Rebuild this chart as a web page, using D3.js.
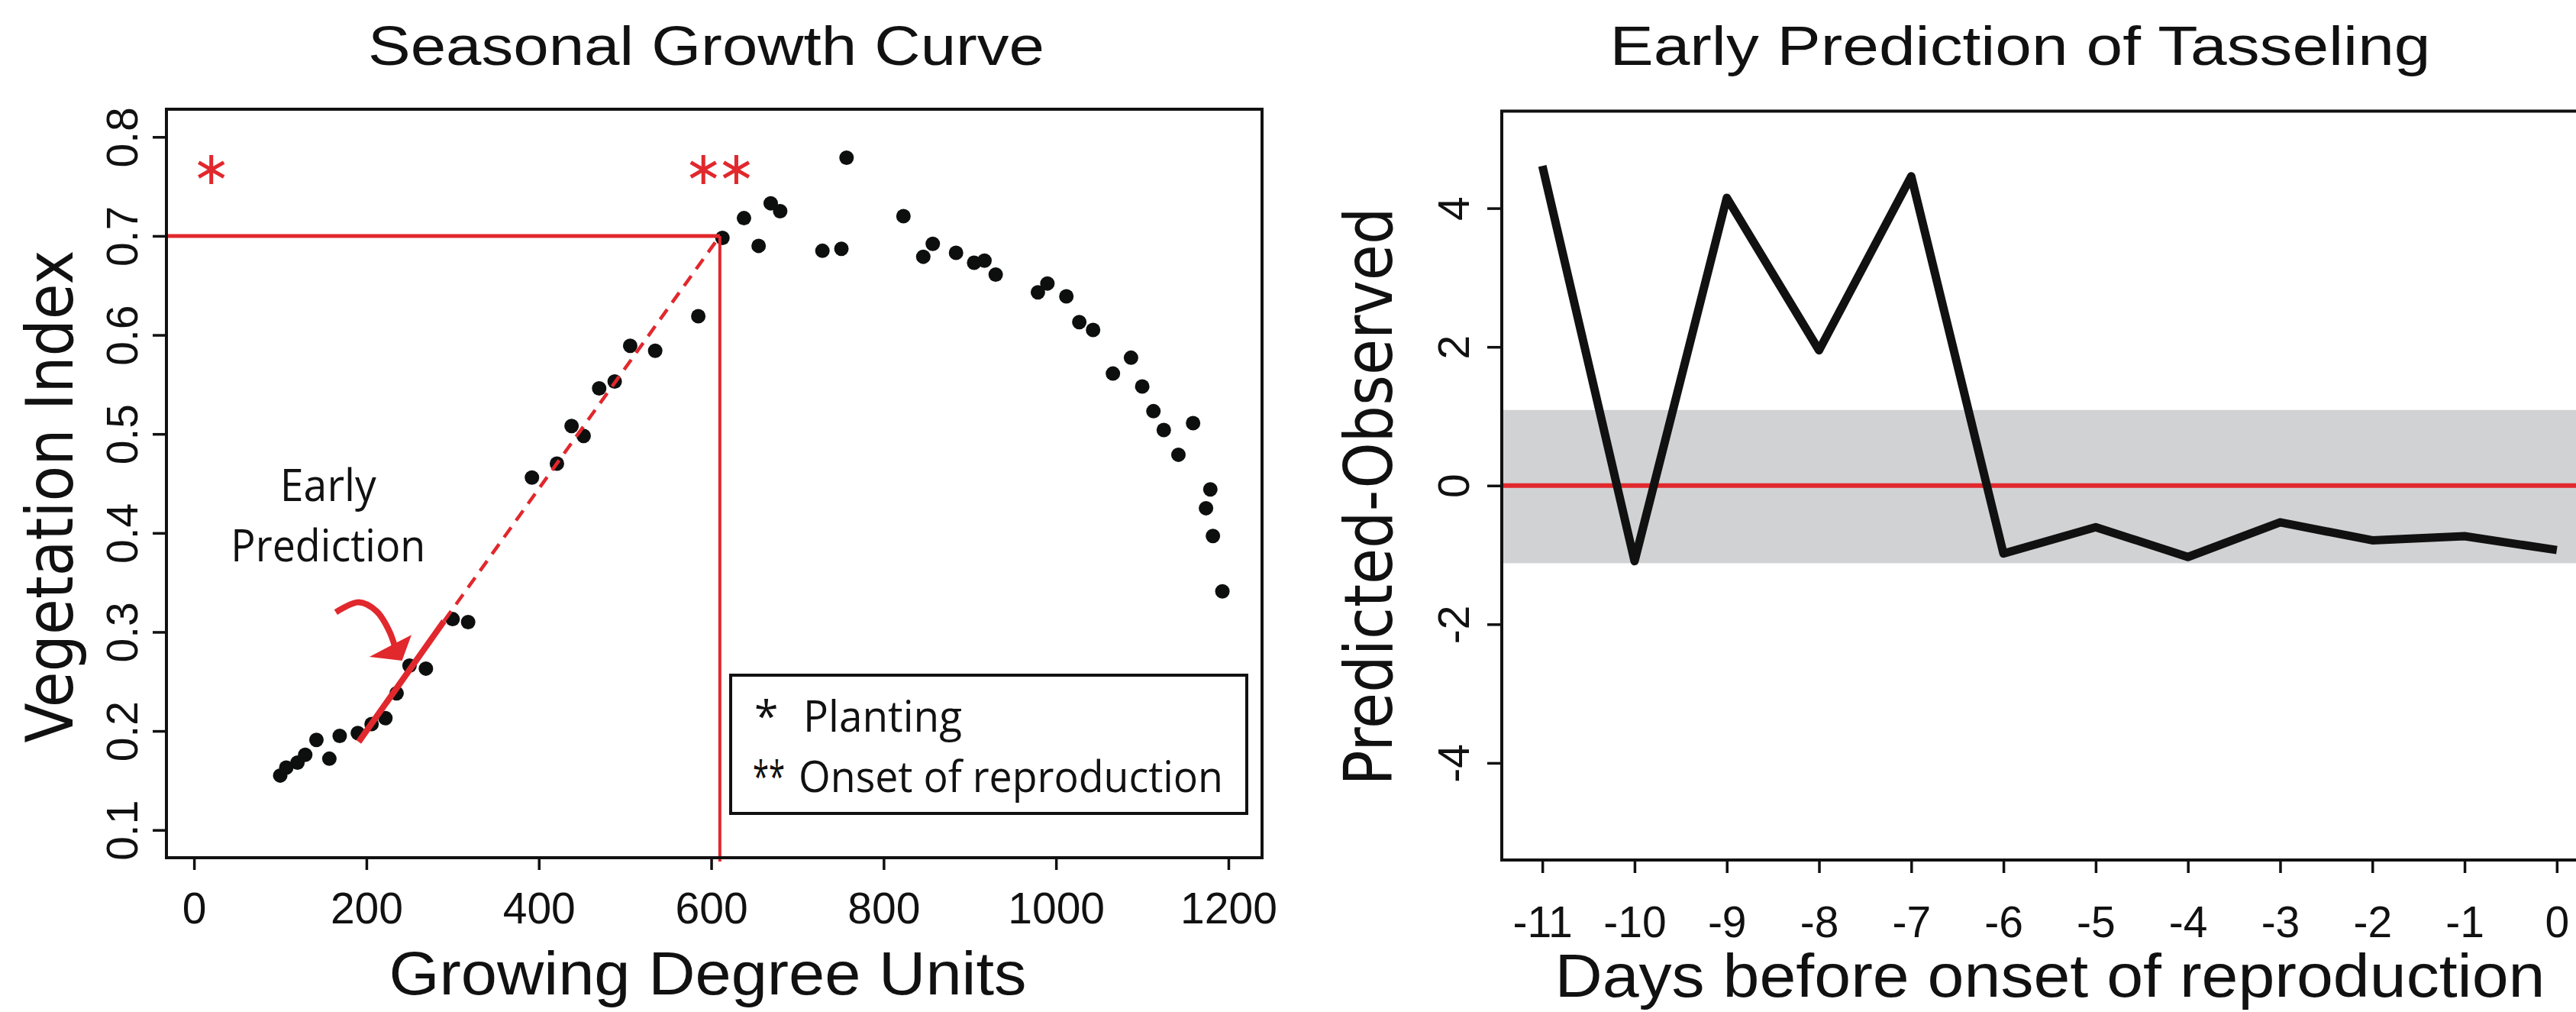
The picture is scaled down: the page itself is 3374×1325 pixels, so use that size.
<!DOCTYPE html>
<html>
<head>
<meta charset="utf-8">
<script src="https://cdn.jsdelivr.net/npm/d3@7"></script>
<style>
  body { margin: 0; background: #fff; }
  text { fill: #111; }
</style>
</head>
<body>
<div id="chart"></div>
<script>
var W = 3374, H = 1325;

// ---- left panel: seasonal growth curve ----
var gdu = [100, 107, 120, 129, 142, 157, 169, 190, 206, 222, 235, 250, 269, 300, 318,
  392, 421, 438, 452, 470, 488, 506, 535, 585, 613, 638, 655, 669, 680, 729, 751, 757,
  823, 846, 857, 884, 905, 917, 930, 979, 990, 1012, 1027, 1043, 1066, 1087, 1100,
  1113, 1125, 1142, 1159, 1174, 1179, 1182, 1193];
var vegIndex = [0.155, 0.163, 0.168, 0.176, 0.191, 0.172, 0.195, 0.198, 0.207, 0.213, 0.238, 0.266, 0.263, 0.313, 0.310,
  0.456, 0.470, 0.508, 0.498, 0.546, 0.553, 0.589, 0.584, 0.619, 0.698, 0.718, 0.690, 0.733, 0.725, 0.685, 0.687, 0.779,
  0.720, 0.679, 0.692, 0.683, 0.673, 0.675, 0.661, 0.643, 0.652, 0.639, 0.613, 0.605, 0.561, 0.577, 0.548,
  0.523, 0.504, 0.479, 0.511, 0.425, 0.444, 0.397, 0.341];
var gduTicks = [0, 200, 400, 600, 800, 1000, 1200];
var viTicks = [0.1, 0.2, 0.3, 0.4, 0.5, 0.6, 0.7, 0.8];

var plantingGdu = 20, onsetGdu = 610, onsetVi = 0.70, starVi = 0.767;
var earlyFit = [[191, 0.189], [290, 0.311]];        // solid red segment
var fitExtension = [[290, 0.311], [610, 0.70]];     // dashed continuation
var arrowShaft = [[164.5, 0.320], [191.1, 0.330], [211.7, 0.321], [226.5, 0.301], [234.7, 0.280]];
var arrowHead = [[206.4, 0.2754], [250.7, 0.2955], [240.7, 0.2718]];
var earlyLabel = [{ text: 'Early', gdu: 155.6, vi: 0.432, len: 126 }, { text: 'Prediction', gdu: 155.6, vi: 0.371, len: 255 }];

// ---- right panel: early prediction of tasseling ----
var days = [-11, -10, -9, -8, -7, -6, -5, -4, -3, -2, -1, 0];
var predMinusObs = [4.61, -1.09, 4.15, 1.95, 4.46, -0.98, -0.60, -1.03, -0.53, -0.79, -0.73, -0.93];
var errorBand = [-1.12, 1.09];
var dayTicks = days;
var errTicks = [-4, -2, 0, 2, 4];

var RED = '#e1282d', INK = '#111';

var svg = d3.select('#chart').append('svg')
  .attr('width', W)
  .attr('height', H)
  .style('font-family', '"Liberation Sans", Arial, sans-serif');

var x1 = d3.scaleLinear().domain([-32, 1239]).range([218, 1653]);
var y1 = d3.scaleLinear().domain([0.072, 0.828]).range([1123, 143]);
var x2 = d3.scaleLinear().domain([-11.44, 0.44]).range([1967, 3402]);
var y2 = d3.scaleLinear().domain([-5.4, 5.4]).range([1126, 145.5]);

function asterisk(r) {
  var c = Math.cos(Math.PI / 6) * r, s = Math.sin(Math.PI / 6) * r;
  return 'M0,' + (-r) + 'L0,' + r +
    'M' + (-c) + ',' + (-s) + 'L' + c + ',' + s +
    'M' + (-c) + ',' + s + 'L' + c + ',' + (-s);
}

function styleAxis(g) {
  g.select('.domain').remove();
  g.selectAll('.tick line').attr('stroke', INK).attr('stroke-width', 3.5);
  g.selectAll('.tick text')
    .attr('fill', INK)
    .style('font-family', '"Liberation Sans", Arial, sans-serif')
    .style('font-size', '57px');
}

// ===== left panel =====
var p1 = svg.append('g');

p1.selectAll('circle.pt')
  .data(gdu)
  .enter().append('circle')
  .attr('class', 'pt')
  .attr('cx', function(d) { return x1(d); })
  .attr('cy', function(d, i) { return y1(vegIndex[i]); })
  .attr('r', 9.5)
  .attr('fill', '#0d0f0f');

// planting / onset reference lines
p1.append('line')
  .attr('x1', x1.range()[0]).attr('x2', x1(onsetGdu))
  .attr('y1', y1(onsetVi)).attr('y2', y1(onsetVi))
  .attr('stroke', RED).attr('stroke-width', 5);
p1.append('line')
  .attr('x1', x1(onsetGdu)).attr('x2', x1(onsetGdu))
  .attr('y1', y1(onsetVi)).attr('y2', y1.range()[0] + 5)
  .attr('stroke', RED).attr('stroke-width', 4);

var fitLine = d3.line()
  .x(function(d) { return x1(d[0]); })
  .y(function(d) { return y1(d[1]); });

p1.append('path')
  .attr('d', fitLine(fitExtension))
  .attr('fill', 'none')
  .attr('stroke', RED)
  .attr('stroke-width', 4.5)
  .attr('stroke-dasharray', '16,11');
p1.append('path')
  .attr('d', fitLine(earlyFit))
  .attr('fill', 'none')
  .attr('stroke', RED)
  .attr('stroke-width', 8);

// curved arrow
p1.append('path')
  .attr('d', fitLine.curve(d3.curveCatmullRom)(arrowShaft))
  .attr('fill', 'none')
  .attr('stroke', RED)
  .attr('stroke-width', 8);
fitLine.curve(d3.curveLinear);
p1.append('path')
  .attr('d', fitLine(arrowHead) + 'Z')
  .attr('fill', RED)
  .attr('stroke', RED)
  .attr('stroke-width', 2);

// stars: * planting, ** onset
p1.append('path')
  .attr('transform', 'translate(' + x1(plantingGdu) + ',' + y1(starVi) + ')')
  .attr('d', asterisk(19))
  .attr('stroke', RED).attr('stroke-width', 5).attr('fill', 'none');
[-21.6, 21.6].forEach(function(dx) {
  p1.append('path')
    .attr('transform', 'translate(' + (x1(onsetGdu) + dx) + ',' + y1(starVi) + ')')
    .attr('d', asterisk(19))
    .attr('stroke', RED).attr('stroke-width', 5).attr('fill', 'none');
});

p1.selectAll('text.early')
  .data(earlyLabel)
  .enter().append('text')
  .attr('class', 'early')
  .attr('x', function(d) { return x1(d.gdu); })
  .attr('y', function(d) { return y1(d.vi); })
  .attr('text-anchor', 'middle')
  .attr('textLength', function(d) { return d.len; })
  .attr('lengthAdjust', 'spacingAndGlyphs')
  .style('font-family', '"Open Sans", sans-serif')
  .style('font-size', '58px')
  .text(function(d) { return d.text; });

// legend
p1.append('rect')
  .attr('x', 957).attr('y', 884).attr('width', 676).attr('height', 181)
  .attr('fill', '#fff').attr('stroke', INK).attr('stroke-width', 4);
var legend = p1.append('g')
  .style('font-family', '"Open Sans", sans-serif')
  .style('font-size', '57px');
legend.append('text').attr('x', 988).attr('y', 958).text('*');
legend.append('text').attr('x', 1052).attr('y', 958)
  .attr('textLength', 208).attr('lengthAdjust', 'spacingAndGlyphs').text('Planting');
legend.append('text').attr('x', 986).attr('y', 1037)
  .attr('textLength', 42).attr('lengthAdjust', 'spacingAndGlyphs').text('**');
legend.append('text').attr('x', 1046).attr('y', 1037)
  .attr('textLength', 556).attr('lengthAdjust', 'spacingAndGlyphs').text('Onset of reproduction');

// axes
p1.append('g')
  .attr('transform', 'translate(0,' + y1.range()[0] + ')')
  .call(d3.axisBottom(x1).tickValues(gduTicks).tickSize(16).tickFormat(d3.format('d')))
  .call(styleAxis)
  .selectAll('.tick text').attr('y', 86).attr('dy', 0);

p1.append('g')
  .attr('transform', 'translate(' + x1.range()[0] + ',0)')
  .call(d3.axisLeft(y1).tickValues(viTicks).tickSize(18).tickFormat(d3.format('.1f')))
  .call(styleAxis)
  .selectAll('.tick text')
  .attr('x', 0).attr('dy', 0)
  .attr('text-anchor', 'middle')
  .attr('transform', 'translate(-38,0) rotate(-90)');

p1.append('rect')
  .attr('x', x1.range()[0]).attr('y', y1.range()[1])
  .attr('width', x1.range()[1] - x1.range()[0])
  .attr('height', y1.range()[0] - y1.range()[1])
  .attr('fill', 'none').attr('stroke', INK).attr('stroke-width', 4);

// ===== right panel =====
var p2 = svg.append('g');

p2.append('rect')
  .attr('x', x2.range()[0]).attr('width', x2.range()[1] - x2.range()[0])
  .attr('y', y2(errorBand[1])).attr('height', y2(errorBand[0]) - y2(errorBand[1]))
  .attr('fill', '#d1d2d4');

p2.append('line')
  .attr('x1', x2.range()[0]).attr('x2', x2.range()[1])
  .attr('y1', y2(0)).attr('y2', y2(0))
  .attr('stroke', RED).attr('stroke-width', 6);

p2.append('path')
  .datum(days)
  .attr('d', d3.line()
    .x(function(d) { return x2(d); })
    .y(function(d, i) { return y2(predMinusObs[i]); }))
  .attr('fill', 'none')
  .attr('stroke', INK)
  .attr('stroke-width', 11)
  .attr('stroke-linejoin', 'round');

p2.append('g')
  .attr('transform', 'translate(0,' + y2.range()[0] + ')')
  .call(d3.axisBottom(x2).tickValues(dayTicks).tickSize(17).tickFormat(function(d) { return String(d); }))
  .call(styleAxis)
  .selectAll('.tick text').attr('y', 101).attr('dy', 0);

p2.append('g')
  .attr('transform', 'translate(' + x2.range()[0] + ',0)')
  .call(d3.axisLeft(y2).tickValues(errTicks).tickSize(19).tickFormat(function(d) { return String(d); }))
  .call(styleAxis)
  .selectAll('.tick text')
  .attr('x', 0).attr('dy', 0)
  .attr('text-anchor', 'middle')
  .attr('transform', 'translate(-43,0) rotate(-90)');

p2.append('rect')
  .attr('x', x2.range()[0]).attr('y', y2.range()[1])
  .attr('width', x2.range()[1] - x2.range()[0])
  .attr('height', y2.range()[0] - y2.range()[1])
  .attr('fill', 'none').attr('stroke', INK).attr('stroke-width', 4);

// ===== titles and axis labels =====
var labels = svg.append('g');
labels.append('text').attr('x', 925).attr('y', 85)
  .attr('text-anchor', 'middle').attr('textLength', 886).attr('lengthAdjust', 'spacingAndGlyphs')
  .style('font-size', '72px').text('Seasonal Growth Curve');
labels.append('text').attr('x', 2646).attr('y', 85)
  .attr('text-anchor', 'middle').attr('textLength', 1075).attr('lengthAdjust', 'spacingAndGlyphs')
  .style('font-size', '72px').text('Early Prediction of Tasseling');
labels.append('text').attr('x', 927).attr('y', 1302)
  .attr('text-anchor', 'middle').attr('textLength', 835).attr('lengthAdjust', 'spacingAndGlyphs')
  .style('font-size', '80px').text('Growing Degree Units');
labels.append('text').attr('x', 2685).attr('y', 1305)
  .attr('text-anchor', 'middle').attr('textLength', 1297).attr('lengthAdjust', 'spacingAndGlyphs')
  .style('font-size', '80px').text('Days before onset of reproduction');
labels.append('text').attr('transform', 'translate(95,650) rotate(-90)')
  .attr('text-anchor', 'middle').attr('textLength', 645).attr('lengthAdjust', 'spacingAndGlyphs')
  .style('font-family', '"DejaVu Sans", sans-serif')
  .style('font-size', '86px').text('Vegetation Index');
labels.append('text').attr('transform', 'translate(1823,650) rotate(-90)')
  .attr('text-anchor', 'middle').attr('textLength', 757).attr('lengthAdjust', 'spacingAndGlyphs')
  .style('font-family', '"DejaVu Sans", sans-serif')
  .style('font-size', '88px').text('Predicted-Observed');
</script>
</body>
</html>
